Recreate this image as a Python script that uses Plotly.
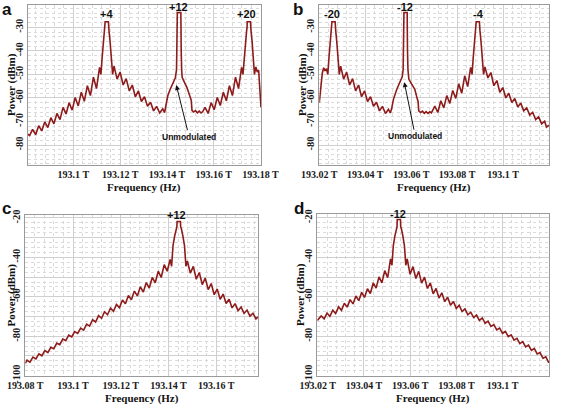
import plotly.graph_objects as go

W, H = 567, 406

# Frequencies are given in GHz above 193 THz; power in dBm
a_freq = [80.5, 81.3, 82.6, 83.9, 85.2, 86.5, 87.8, 89.1, 90.4, 91.7,
          93.0, 94.3, 95.6, 96.9, 98.2, 99.5, 100.8, 102.1, 103.4, 104.7,
          106.0, 107.3, 108.6, 109.9, 111.2, 111.8, 112.3, 112.9, 113.35, 113.55,
          113.6, 115.0, 115.05, 115.25, 115.7, 116.3, 116.8, 117.4, 118.7, 120.0,
          121.3, 122.6, 123.9, 125.2, 126.5, 127.8, 129.1, 130.4, 131.7, 133.0,
          134.3, 135.6, 136.9, 138.2, 139.0, 139.6, 140.4, 141.4, 142.5, 143.6,
          144.1, 144.3, 144.4, 144.45, 144.45, 145.95, 145.95, 146.0, 146.1, 146.3,
          146.5, 147.5, 148.6, 150.0, 150.4, 150.7, 151.4, 152.2, 153.0, 153.8,
          154.6, 155.3, 156.3, 157.6, 158.9, 160.2, 161.5, 162.8, 164.1, 165.4,
          166.7, 168.0, 169.3, 170.6, 171.9, 172.5, 173.0, 173.6, 174.05, 174.25,
          174.3, 175.7, 175.75, 175.95, 176.4, 177.0, 177.4, 178.0, 178.6, 179.2,
          179.7, 180.2]
a_pow = [-75.4, -76.0, -73.4, -75.6, -71.8, -74.0, -70.2, -72.6, -68.4, -71.0,
         -66.6, -69.2, -64.0, -66.8, -62.0, -65.2, -59.8, -63.4, -57.6, -61.4,
         -54.8, -59.0, -51.2, -56.0, -47.0, -50.0, -43.0, -36.0, -31.5, -30.0,
         -27.6, -27.6, -30.0, -31.5, -36.0, -43.0, -50.0, -46.5, -52.0, -49.0,
         -54.5, -51.8, -57.0, -54.5, -59.5, -57.0, -61.5, -59.5, -63.5, -61.8,
         -65.5, -63.6, -66.4, -64.6, -66.2, -63.0, -59.0, -56.3, -53.6, -51.4,
         -48.0, -40.0, -30.0, -26.0, -23.7, -23.7, -26.0, -30.0, -40.0, -48.0,
         -51.2, -53.4, -55.7, -59.8, -61.0, -65.3, -66.0, -65.4, -66.3, -65.6,
         -66.4, -65.8, -64.0, -66.6, -62.0, -65.0, -59.8, -63.2, -57.6, -61.2,
         -54.8, -59.0, -51.2, -56.0, -47.0, -50.0, -43.0, -36.0, -31.5, -30.0,
         -27.6, -27.6, -30.0, -31.5, -36.0, -43.0, -50.0, -46.8, -49.0, -48.2,
         -55.0, -64.0]

b_freq = [20.0, 20.7, 21.3, 21.9, 22.5, 23.1, 23.7, 24.2, 24.8, 25.25,
          25.45, 25.5, 26.9, 26.95, 27.15, 27.6, 28.2, 28.7, 29.3, 30.6,
          31.9, 33.2, 34.5, 35.8, 37.1, 38.4, 39.7, 41.0, 42.3, 43.6,
          44.9, 46.2, 47.5, 48.8, 50.1, 50.9, 51.5, 52.3, 53.7, 55.1,
          56.1, 56.5, 56.7, 56.8, 56.85, 56.85, 58.25, 58.25, 58.3, 58.4,
          58.6, 59.0, 60.3, 61.6, 62.7, 63.0, 63.3, 64.1, 64.9, 65.7,
          66.5, 67.3, 68.1, 68.8, 70.3, 71.6, 72.9, 74.2, 75.5, 76.8,
          78.1, 79.4, 80.7, 82.0, 83.3, 84.6, 85.9, 86.5, 87.0, 87.6,
          88.05, 88.25, 88.3, 89.7, 89.75, 89.95, 90.4, 91.0, 91.5, 92.1,
          93.4, 94.7, 96.0, 97.3, 98.6, 99.9, 101.2, 102.5, 103.8, 105.1,
          106.4, 107.7, 109.0, 110.3, 111.6, 112.9, 114.2, 115.5, 116.8, 118.1,
          118.9, 120.0]
b_pow = [-62.0, -55.0, -49.5, -47.2, -48.5, -47.6, -50.0, -43.0, -36.0, -31.5,
         -30.0, -27.6, -27.6, -30.0, -31.5, -36.0, -43.0, -50.0, -46.5, -52.0,
         -49.0, -54.5, -51.8, -57.0, -54.5, -59.5, -57.0, -61.5, -59.5, -63.5,
         -61.8, -65.5, -63.6, -66.6, -64.8, -66.4, -64.5, -60.5, -56.4, -53.5,
         -51.0, -48.0, -40.0, -30.0, -26.0, -23.7, -23.7, -26.0, -30.0, -40.0,
         -48.0, -52.1, -54.2, -56.4, -60.6, -61.5, -65.5, -66.2, -65.6, -66.5,
         -65.8, -66.6, -65.9, -66.3, -63.5, -66.2, -61.2, -64.2, -59.0, -62.4,
         -56.8, -60.2, -54.0, -58.0, -50.6, -55.2, -47.0, -50.0, -43.0, -36.0,
         -31.5, -30.0, -27.6, -27.6, -30.0, -31.5, -36.0, -43.0, -50.0, -46.8,
         -51.5, -49.2, -54.8, -52.6, -57.6, -55.6, -60.0, -58.0, -61.9, -60.2,
         -63.8, -62.2, -65.5, -64.2, -67.3, -66.1, -69.2, -68.0, -71.0, -69.9,
         -72.4, -71.6]

c_freq = [80.0, 80.7, 81.95, 83.2, 84.45, 85.7, 86.95, 88.2, 89.45, 90.7,
          91.95, 93.2, 94.45, 95.7, 96.95, 98.2, 99.45, 100.7, 101.95, 103.2,
          104.45, 105.7, 106.95, 108.2, 109.45, 110.7, 111.95, 113.2, 114.45, 115.7,
          116.95, 118.2, 119.45, 120.7, 121.95, 123.2, 124.45, 125.7, 126.95, 128.2,
          129.45, 130.7, 131.95, 133.2, 134.45, 135.7, 136.95, 138.2, 139.45, 140.7,
          141.3, 141.9, 142.6, 143.2, 143.5, 143.6, 145.0, 145.1, 145.4, 146.0,
          146.7, 147.3, 147.9, 149.15, 150.4, 151.65, 152.9, 154.15, 155.4, 156.65,
          157.9, 159.15, 160.4, 161.65, 162.9, 164.15, 165.4, 166.65, 167.9, 169.15,
          170.4, 171.65, 172.9, 174.15, 175.4, 176.65, 177.5]
c_pow = [-93.8, -92.15, -93.13, -90.52, -91.51, -88.89, -89.88, -87.27, -88.25, -85.57,
         -86.33, -83.5, -84.26, -81.43, -82.19, -79.46, -80.36, -77.67, -78.58, -75.89,
         -76.87, -73.82, -74.87, -71.62, -72.77, -69.52, -70.86, -67.57, -69.08, -65.74,
         -67.39, -63.9, -65.53, -61.61, -63.49, -59.37, -61.46, -57.1, -59.52, -54.93,
         -57.55, -52.76, -55.57, -50.18, -52.89, -46.99, -50.2, -43.7, -47.0, -41.0,
         -44.5, -34.0, -29.0, -25.5, -24.5, -21.8, -21.8, -24.5, -25.5, -29.0,
         -34.0, -44.5, -41.8, -48.0, -44.54, -51.06, -47.68, -53.78, -50.47, -56.36,
         -53.25, -58.94, -56.03, -61.23, -58.62, -63.42, -61.22, -65.61, -63.45, -67.0,
         -65.11, -68.41, -66.71, -69.81, -68.32, -71.17, -70.2]

d_freq = [19.8, 21.5, 22.75, 24.0, 25.25, 26.5, 27.75, 29.0, 30.25, 31.5,
          32.75, 34.0, 35.25, 36.5, 37.75, 39.0, 40.25, 41.5, 42.75, 44.0,
          45.25, 46.5, 47.75, 49.0, 50.25, 51.5, 52.1, 52.7, 53.4, 54.0,
          54.3, 54.4, 55.8, 55.9, 56.2, 56.8, 57.5, 58.1, 58.7, 59.95,
          61.2, 62.45, 63.7, 64.95, 66.2, 67.45, 68.7, 69.95, 71.2, 72.45,
          73.7, 74.95, 76.2, 77.45, 78.7, 79.95, 81.2, 82.45, 83.7, 84.95,
          86.2, 87.45, 88.7, 89.95, 91.2, 92.45, 93.7, 94.95, 96.2, 97.45,
          98.7, 99.95, 101.2, 102.45, 103.7, 104.95, 106.2, 107.45, 108.7, 109.95,
          111.2, 112.45, 113.7, 114.95, 116.2, 117.45, 118.7, 119.95, 120.2]
d_pow = [-72.0, -69.66, -71.17, -68.23, -69.89, -66.8, -68.51, -65.09, -66.87, -63.25,
         -65.24, -61.42, -63.6, -59.58, -61.96, -57.74, -60.32, -55.91, -58.3, -52.96,
         -55.61, -49.87, -52.9, -46.7, -50.3, -40.8, -44.0, -34.0, -29.0, -25.5,
         -24.5, -20.8, -20.8, -24.5, -25.5, -29.0, -34.0, -44.0, -40.8, -48.6,
         -44.69, -50.68, -47.12, -53.08, -50.03, -55.78, -52.93, -58.48, -55.74, -60.65,
         -57.96, -62.46, -60.17, -64.28, -62.32, -65.88, -64.25, -67.46, -66.09, -69.11,
         -67.82, -70.54, -69.26, -71.98, -70.69, -73.41, -72.36, -75.03, -74.1, -76.77,
         -75.84, -78.5, -77.57, -80.24, -79.31, -81.98, -81.04, -83.71, -82.76, -85.42,
         -84.48, -87.13, -86.19, -88.97, -88.27, -91.16, -90.46, -93.36, -92.6]

for f, p in ((a_freq, a_pow), (b_freq, b_pow), (c_freq, c_pow), (d_freq, d_pow)):
    assert len(f) == len(p), (len(f), len(p))

a_xticks = [100, 120, 140, 160, 180]
a_xtext = ["193.1 T", "193.12 T", "193.14 T", "193.16 T", "193.18 T"]
b_xticks = [20, 40, 60, 80, 100]
b_xtext = ["193.02 T", "193.04 T", "193.06 T", "193.08 T", "193.1 T"]
c_xticks = [80, 100, 120, 140, 160]
c_xtext = ["193.08 T", "193.1 T", "193.12 T", "193.14 T", "193.16 T"]
d_xticks = [20, 40, 60, 80, 100, 120]
d_xtext = ["193.02 T", "193.04 T", "193.06 T", "193.08 T", "193.1 T", "193.12 T"]
ab_yticks = [-30, -40, -50, -60, -70, -80]
ab_ytext = ["-30", "-40", "-50", "-60", "-70", "-80"]
cd_yticks = [-20, -30, -40, -50, -60, -70, -80, -90, -100]
cd_ytext = ["-20", "", "-40", "", "-60", "", "-80", "", "-100"]

a_labels = ["+4", "+12", "+20"]
b_labels = ["-20", "-12", "-4"]
c_labels = ["+12"]
d_labels = ["-12"]
panel_letters = ["a", "b", "c", "d"]

LINE = "#8e1b1b"
SERIF = "Liberation Serif"
SANS = "Liberation Sans"


def px_x(p):
    return p / W


def px_y(p):
    return 1 - p / H


panels = [
    ("", a_freq, a_pow, [80.5, 180.2], [-88.5, -20.5], (27.7, 261), (5, 165),
     a_xticks, a_xtext, ab_yticks, ab_ytext, 2),
    ("2", b_freq, b_pow, [20.0, 120.0], [-88.5, -20.5], (319.3, 549), (5, 165),
     b_xticks, b_xtext, ab_yticks, ab_ytext, 2),
    ("3", c_freq, c_pow, [80.0, 177.5], [-100, -18.5], (25.3, 258), (215, 375.7),
     c_xticks, c_xtext, cd_yticks, cd_ytext, 2.5),
    ("4", d_freq, d_pow, [19.8, 120.2], [-100, -18.0], (317.3, 549.3), (214, 375.7),
     d_xticks, d_xtext, cd_yticks, cd_ytext, 2.5),
]

fig = go.Figure()
layout = dict(
    template="none",
    width=W, height=H, margin=dict(l=0, r=0, t=0, b=0, pad=0),
    paper_bgcolor="white", plot_bgcolor="white", showlegend=False,
    annotations=[],
)

for suf, fx, py, xr, yr, xd, yd, xt, xtt, yt, ytt, ymin in panels:
    fig.add_trace(go.Scatter(
        x=fx, y=py, mode="lines", line=dict(color=LINE, width=1.6),
        xaxis="x" + suf, yaxis="y" + suf, hoverinfo="skip"))
    layout["xaxis" + suf] = dict(
        domain=[px_x(xd[0]), px_x(xd[1])], range=xr, anchor="y" + suf,
        automargin=False, tickangle=0,
        tickmode="array", tickvals=xt, ticktext=xtt,
        showgrid=True, gridcolor="#cfcfcf", gridwidth=1,
        minor=dict(tickmode="linear", tick0=0, dtick=4, showgrid=True,
                   gridcolor="#dadada", griddash="dot", gridwidth=1),
        showline=True, linecolor="#9a9a9a", linewidth=1, mirror=True,
        ticks="", zeroline=False,
        tickfont=dict(family=SERIF, size=10, color="#1a1a1a", weight="bold"),
    )
    layout["yaxis" + suf] = dict(
        domain=[px_y(yd[1]), px_y(yd[0])], range=yr, anchor="x" + suf,
        automargin=False,
        tickmode="array", tickvals=yt, ticktext=ytt,
        tickangle=-90,
        showgrid=True, gridcolor="#cfcfcf", gridwidth=1,
        minor=dict(tickmode="linear", tick0=0, dtick=ymin, showgrid=True,
                   gridcolor="#dadada", griddash="dot", gridwidth=1),
        showline=True, linecolor="#9a9a9a", linewidth=1, mirror=True,
        ticks="", zeroline=False,
        tickfont=dict(family=SERIF, size=10.5, color="#1a1a1a", weight="bold"),
    )

ann = layout["annotations"]


def text_px(x, y, t, size, family=SANS, angle=0):
    ann.append(dict(xref="paper", yref="paper", x=px_x(x), y=px_y(y), text=t,
                    showarrow=False, xanchor="center", yanchor="middle",
                    textangle=angle,
                    font=dict(family=family, size=size, color="#111", weight="bold")))


# axis titles
for cx, cy in ((144, 187), (434, 187), (142, 398), (433, 398)):
    text_px(cx, cy, "Frequency (Hz)", 11, SERIF)
for cx, cy in ((11, 85), (302, 85), (10.5, 295), (300, 295)):
    text_px(cx, cy, "Power (dBm)", 11, SERIF, -90)

# peak labels
for (cx, cy), t in zip(((106, 14), (178.3, 7), (246.7, 14)), a_labels):
    text_px(cx, cy, t, 11)
for (cx, cy), t in zip(((331.7, 14), (405, 7), (478.3, 14)), b_labels):
    text_px(cx, cy, t, 11)
text_px(176.7, 215, c_labels[0], 11)
text_px(398.3, 214, d_labels[0], 11)

# panel letters
for (cx, cy), t in zip(((7, 9), (297.5, 9), (6, 208), (298.5, 208)), panel_letters):
    text_px(cx, cy, t, 17)

# Unmodulated arrows
for xref, yref, hx, hy, ax, ay in (("x", "y", 144.0, -54.5, 12.8, 51.7),
                                   ("x2", "y2", 57.0, -53.3, 11.0, 54.0)):
    ann.append(dict(xref=xref, yref=yref, x=hx, y=hy, text="Unmodulated",
                    showarrow=True, ax=ax, ay=ay, arrowhead=2, arrowsize=1,
                    arrowwidth=1, arrowcolor="#111",
                    font=dict(family=SANS, size=8.5, color="#111", weight="bold")))

fig.update_layout(**layout)
fig.write_html("out.html",
               config={"displayModeBar": False, "staticPlot": True},
               post_script="document.body.style.margin='0';document.body.style.padding='0';")
